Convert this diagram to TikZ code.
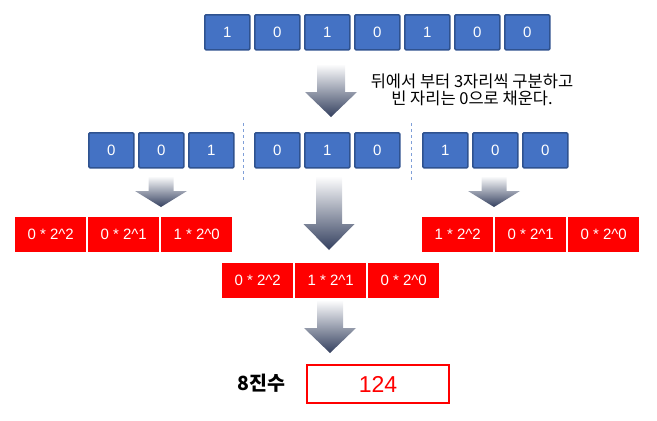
\documentclass[tikz,border=0pt]{standalone}
\usepackage{fontspec}
\setmainfont{Liberation Sans}
\newfontfamily\krfont{Noto Sans CJK KR}
\definecolor{boxblue}{HTML}{4472C4}
\definecolor{boxedge}{HTML}{2F528F}
\definecolor{arrowdark}{HTML}{34405F}
\definecolor{sepblue}{HTML}{7F9FD8}
\tikzset{
  bitbox/.style={draw=boxedge, line width=1.6pt, fill=boxblue, rounded corners=1.2pt,
    minimum width=45pt, minimum height=35pt, inner sep=0pt, text=white,
    font=\fontsize{15}{15}\selectfont, anchor=north west},
  termbox/.style={fill=red, minimum width=71pt, minimum height=35pt, inner sep=0pt,
    text=white, font=\fontsize{15}{15}\selectfont, anchor=north west},
  sepline/.style={draw=sepblue, dashed, line width=0.9pt},
  fatarrow/.style={top color=white, bottom color=arrowdark, draw=none}
}
\newcommand\fatarrow[7]{% cx, top, headbase, tip, shafthalf, headhalf
  \shade[fatarrow] (#1-#5,#2) -- (#1+#5,#2) -- (#1+#5,#3) -- (#1+#6,#3) -- (#1,#4)
    -- (#1-#6,#3) -- (#1-#5,#3) -- cycle;}
\begin{document}
\begin{tikzpicture}[x=1pt,y=-1pt]
\useasboundingbox (0,0) rectangle (657,421);
% top row
\node[bitbox] (t1) at (204,14) {1};
\node[bitbox] (t2) at (254,14) {0};
\node[bitbox] (t3) at (304,14) {1};
\node[bitbox] (t4) at (354,14) {0};
\node[bitbox] (t5) at (404,14) {1};
\node[bitbox] (t6) at (454,14) {0};
\node[bitbox] (t7) at (504,14) {0};
% top arrow
\fatarrow{331}{64}{92}{117}{14}{26}{}
\node[font=\krfont\fontsize{16.5}{17.5}\selectfont, align=center, inner sep=0pt] (note) at (472,90)
  {뒤에서 부터 3자리씩 구분하고\\빈 자리는 0으로 채운다.};
% middle row
\node[bitbox] (a1) at (88,132) {0};
\node[bitbox] (a2) at (138,132) {0};
\node[bitbox] (a3) at (188,132) {1};
\node[bitbox] (b1) at (254,132) {0};
\node[bitbox] (b2) at (304,132) {1};
\node[bitbox] (b3) at (354,132) {0};
\node[bitbox] (c1) at (422,132) {1};
\node[bitbox] (c2) at (472,132) {0};
\node[bitbox] (c3) at (522,132) {0};
\coordinate (s1a) at (243,123); \coordinate (s1b) at (243,180);
\coordinate (s2a) at (411,123); \coordinate (s2b) at (411,180);
\draw[sepline] (s1a) -- (s1b);
\draw[sepline] (s2a) -- (s2b);
% arrows from groups
\fatarrow{161}{176}{191}{207}{12.5}{26}{}
\fatarrow{494}{176}{191}{207}{12.5}{26}{}
\fatarrow{329}{176}{224}{250}{13}{25.5}{}
% left terms
\node[termbox] (l1) at (15,217) {0 * 2\^{}2};
\node[termbox] (l2) at (88,217) {0 * 2\^{}1};
\node[termbox] (l3) at (161,217) {1 * 2\^{}0};
% right terms
\node[termbox] (r1) at (422,217) {1 * 2\^{}2};
\node[termbox] (r2) at (495,217) {0 * 2\^{}1};
\node[termbox] (r3) at (568,217) {0 * 2\^{}0};
% middle terms
\node[termbox] (c1t) at (222,263) {0 * 2\^{}2};
\node[termbox] (c2t) at (295,263) {1 * 2\^{}1};
\node[termbox] (c3t) at (368,263) {0 * 2\^{}0};
% bottom arrow
\fatarrow{330}{300}{328}{353}{13}{26}{}
% result
\node[draw=red, line width=2pt, minimum width=142pt, minimum height=38pt, inner sep=0pt,
  text=red, font=\fontsize{23}{23}\selectfont, anchor=north west] (res) at (306,364) {124};
\node[font=\krfont\bfseries\fontsize{19.5}{19.5}\selectfont, anchor=east] (lbl) at (289,383) {8진수};
\end{tikzpicture}
\end{document}
